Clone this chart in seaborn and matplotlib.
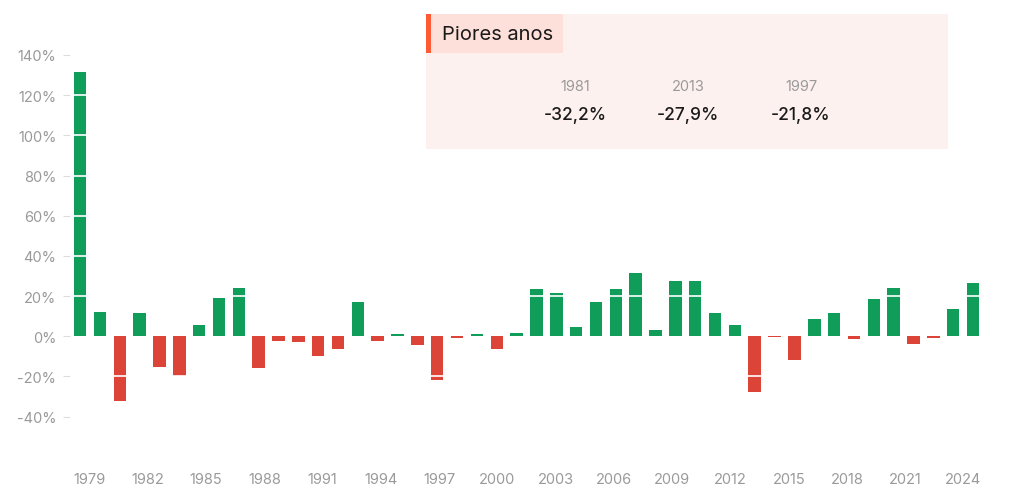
import numpy as np
import pandas as pd
import matplotlib
matplotlib.use("Agg")
import matplotlib.pyplot as plt
from matplotlib.patches import Rectangle
import seaborn as sns

# annual returns (%)
years = list(range(1979, 2025))
returns = [131.4, 11.9, -32.2, 11.6, -15.1, -19.6, 5.6, 19.2, 24.0, -16.0,
           -2.5, -2.8, -10.0, -6.2, 17.2, -2.3, 1.0, -4.6, -21.8, -0.7,
           1.0, -6.3, 1.4, 23.7, 21.7, 4.8, 17.1, 23.7, 31.5, 3.3,
           27.6, 27.6, 11.4, 5.4, -27.9, -0.5, -11.6, 8.8, 11.6, -1.5,
           18.6, 24.0, -4.1, -0.8, 13.6, 26.4]

# callout: worst years
worst_years = ["1981", "2013", "1997"]
worst_values = ["-32,2%", "-27,9%", "-21,8%"]

y_ticks = [-40, -20, 0, 20, 40, 60, 80, 100, 120, 140]
x_label_years = list(range(1979, 2025, 3))

GREEN = "#109c59"
RED = "#dc4437"
GRAY = "#9a9a9a"

df = pd.DataFrame({"year": [str(y) for y in years], "ret": returns})
df["sign"] = np.where(df["ret"] >= 0, "pos", "neg")

sns.set_theme(style="white")
plt.rcParams["font.family"] = ["Inter", "DejaVu Sans"]

fig = plt.figure(figsize=(10.24, 4.89), dpi=100)
ax = fig.add_axes([0.0685, 0.0638, 0.8914, 0.8628])

sns.barplot(data=df, x="year", y="ret", hue="sign",
            palette={"pos": GREEN, "neg": RED}, dodge=False,
            width=0.63, legend=False, ax=ax, saturation=1,
            linewidth=0)

ax.set_xlim(-0.5, len(years) - 0.5)
ax.set_ylim(-60, 150)
ax.set_yticks(y_ticks)
ax.set_yticklabels([f"{t}%" for t in y_ticks])
ax.set_xlabel("")
ax.set_ylabel("")

# white gridlines drawn over the bars (none at zero, so tiny bars stay visible)
for t in y_ticks:
    if t != 0:
        ax.axhline(t, color="white", linewidth=1.2, zorder=3)
for s in ax.spines.values():
    s.set_visible(False)

ax.tick_params(axis="y", length=5, width=0.8, color="#dddddd",
               labelcolor=GRAY, labelsize=10.5, pad=5, left=True)
ax.tick_params(axis="x", bottom=False, labelbottom=False)

# year labels sit on a linear year scale spanning 1978..2025
n = len(years)
sec = ax.secondary_xaxis("bottom",
                         functions=(lambda x: 1978 + (x + 0.5) * 47 / n,
                                    lambda y: (y - 1978) * n / 47 - 0.5))
sec.set_xticks(x_label_years)
sec.set_xticklabels([str(y) for y in x_label_years])
sec.tick_params(length=0, labelcolor=GRAY, labelsize=10.5, pad=11)
for s in sec.spines.values():
    s.set_visible(False)

# callout box
W, H = 1024, 489
def fx(px):
    return px / W
def fy(py):
    return 1 - py / H

fig.patches.append(Rectangle((fx(426), fy(150)), fx(948) - fx(426), fy(15) - fy(150),
                             transform=fig.transFigure, facecolor="#fdf1ef",
                             edgecolor="none", zorder=5))
fig.patches.append(Rectangle((fx(426), fy(54)), fx(563) - fx(426), fy(15) - fy(54),
                             transform=fig.transFigure, facecolor="#fde0da",
                             edgecolor="none", zorder=6))
fig.patches.append(Rectangle((fx(426), fy(54)), fx(431) - fx(426), fy(15) - fy(54),
                             transform=fig.transFigure, facecolor="#ff5a36",
                             edgecolor="none", zorder=7))
fig.text(fx(442), fy(35), "Piores anos", fontsize=14.5, color="#1a1a1a",
         va="center", ha="left", zorder=8)

for i, (yr, val) in enumerate(zip(worst_years, worst_values)):
    cx = fx(575 + i * 113)
    fig.text(cx, fy(87), yr, fontsize=10.5, color=GRAY, ha="center", va="center", zorder=8)
    fig.text(cx, fy(115), val, fontsize=12.5, color="#1a1a1a", ha="center", va="center",
             fontweight="medium", zorder=8)

fig.savefig("out.png", dpi=100)
